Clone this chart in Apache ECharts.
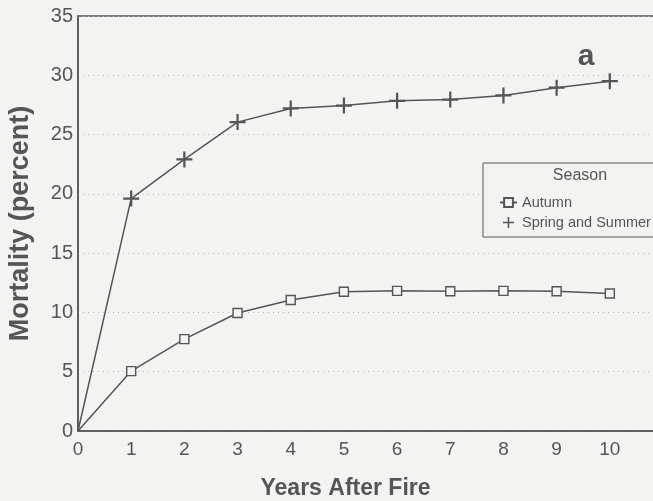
<!DOCTYPE html>
<html>
<head>
<meta charset="utf-8">
<script src="https://cdn.jsdelivr.net/npm/echarts@6/dist/echarts.min.js"></script>
<style>
  html, body { margin: 0; padding: 0; background: #f3f3f1; }
  #chart { width: 653px; height: 501px; }
</style>
</head>
<body>
<div id="chart"></div>
<script>
// years after fire
const years = [0, 1, 2, 3, 4, 5, 6, 7, 8, 9, 10];
// mortality (percent)
const autumn = [0, 5.05, 7.75, 9.95, 11.05, 11.75, 11.82, 11.78, 11.82, 11.78, 11.6];
const springSummer = [0, 19.6, 22.9, 26.05, 27.2, 27.45, 27.85, 27.95, 28.3, 28.95, 29.5];

const ink = '#555555';
const bg = '#f3f3f1';
const plusPath = 'path://M4.3,0 H5.7 V4.3 H10 V5.7 H5.7 V10 H4.3 V5.7 H0 V4.3 H4.3 Z';

// no marker on the origin point
function toPoints(vals) {
    return years.map((x, i) => i === 0 ? { value: [x, vals[i]], symbol: 'none' } : [x, vals[i]]);
}

const chart = echarts.init(document.getElementById('chart'));

const option = {
    backgroundColor: bg,
    animation: false,
    textStyle: { fontFamily: 'Liberation Sans', color: ink },
    grid: {
        left: 78,
        top: 16,
        bottom: 70,
        right: -10,
        containLabel: false,
        outerBoundsMode: 'none',
        show: true,
        borderColor: ink,
        borderWidth: 1.5,
        backgroundColor: 'transparent'
    },
    xAxis: {
        type: 'value',
        min: 0,
        max: 11,
        interval: 1,
        name: 'Years After Fire',
        nameLocation: 'middle',
        nameGap: 46,
        // the plot runs past the right edge, so pull the title back to the left
        nameTextStyle: { fontSize: 23, fontWeight: 'bold', color: ink, padding: [0, 50, 0, 0] },
        axisLine: { show: true, lineStyle: { color: ink, width: 1.5 } },
        axisTick: { show: false },
        axisLabel: { fontSize: 19, color: ink, margin: 9 },
        splitLine: { show: false }
    },
    yAxis: {
        type: 'value',
        min: 0,
        max: 35,
        interval: 5,
        name: 'Mortality (percent)',
        nameLocation: 'middle',
        nameGap: 44,
        nameTextStyle: { fontSize: 27, fontWeight: 'bold', color: ink },
        axisLine: { show: true, lineStyle: { color: ink, width: 1.5 } },
        axisTick: { show: false },
        axisLabel: { fontSize: 20, color: ink, margin: 5 },
        splitLine: { show: true, lineStyle: { color: '#b8b8b8', type: [1, 4], width: 1 } }
    },
    legend: {
        orient: 'vertical',
        left: 494,
        top: 190,
        z: 100,
        itemGap: 5,
        itemWidth: 17,
        itemHeight: 11,
        textStyle: { fontSize: 14.5, color: ink, fontFamily: 'Liberation Sans' },
        data: [
            { name: 'Autumn' },
            { name: 'Spring and Summer', icon: plusPath, itemStyle: { color: ink } }
        ]
    },
    graphic: [
        {
            type: 'rect',
            shape: { x: 483, y: 163, width: 190, height: 74 },
            style: { fill: bg, stroke: ink, lineWidth: 1 },
            z: 5
        },
        {
            type: 'text',
            x: 580,
            y: 176,
            style: { text: 'Season', fontSize: 16, fill: ink, fontFamily: 'Liberation Sans', align: 'center', verticalAlign: 'middle' },
            z: 6
        },
        {
            type: 'text',
            x: 586,
            y: 57,
            style: { text: 'a', fontSize: 30, fontWeight: 'bold', fill: ink, fontFamily: 'Liberation Sans', align: 'center', verticalAlign: 'middle' },
            z: 6
        }
    ],
    series: [
        {
            name: 'Autumn',
            type: 'line',
            data: toPoints(autumn),
            symbol: 'rect',
            symbolSize: 9,
            showSymbol: true,
            lineStyle: { color: ink, width: 1.5 },
            itemStyle: { color: bg, borderColor: ink, borderWidth: 1.4 },
            z: 3
        },
        {
            name: 'Spring and Summer',
            type: 'line',
            data: toPoints(springSummer),
            symbol: plusPath,
            symbolSize: 16,
            lineStyle: { color: ink, width: 1.5 },
            itemStyle: { color: ink },
            z: 3
        }
    ]
};

chart.setOption(option);
</script>
</body>
</html>
